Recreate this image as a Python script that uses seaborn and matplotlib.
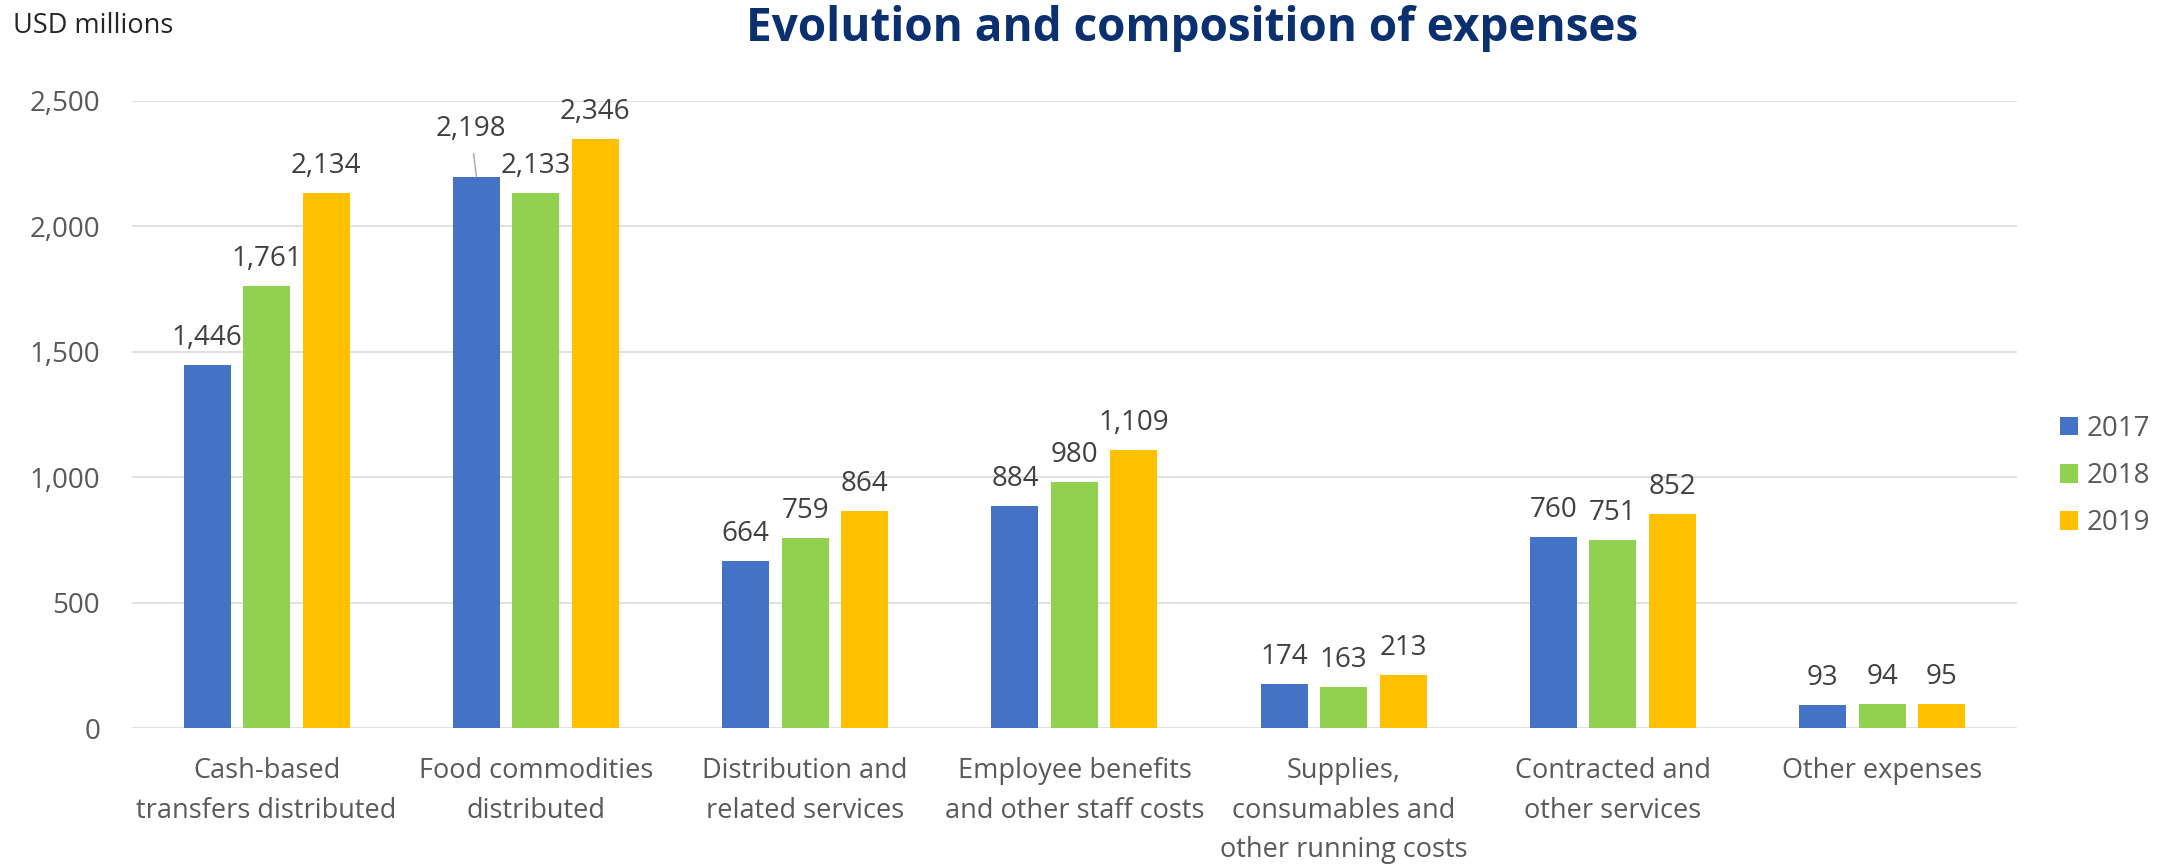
import matplotlib
matplotlib.use("Agg")
import matplotlib.pyplot as plt
from matplotlib.ticker import FuncFormatter, MultipleLocator
import seaborn as sns
import pandas as pd

# Expense categories (USD millions) for 2017-2019
categories = [
    "Cash-based\ntransfers distributed",
    "Food commodities\ndistributed",
    "Distribution and\nrelated services",
    "Employee benefits\nand other staff costs",
    "Supplies,\nconsumables and\nother running costs",
    "Contracted and\nother services",
    "Other expenses",
]
years = ["2017", "2018", "2019"]
values_2017 = [1446, 2198, 664, 884, 174, 760, 93]
values_2018 = [1761, 2133, 759, 980, 163, 751, 94]
values_2019 = [2134, 2346, 864, 1109, 213, 852, 95]
palette = ["#4472C4", "#92D050", "#FFC000"]

df = pd.DataFrame({
    "category": categories * 3,
    "year": [y for y in years for _ in categories],
    "value": values_2017 + values_2018 + values_2019,
})

sns.set_theme(style="white")
plt.rcParams["font.family"] = ["Open Sans", "DejaVu Sans"]

fig = plt.figure(figsize=(21.68, 8.64), dpi=100)
ax = fig.add_axes([0.0609, 0.1574, 0.8694, 0.7260])

sns.barplot(data=df, x="category", y="value", hue="year", order=categories,
            hue_order=years, palette=palette, saturation=1, width=0.663,
            gap=0.21, linewidth=0, errorbar=None, ax=ax)

ax.set_xlim(-0.5, len(categories) - 0.5)
ax.set_ylim(0, 2500)
ax.yaxis.set_major_locator(MultipleLocator(500))
ax.yaxis.set_major_formatter(FuncFormatter(lambda v, _: f"{v:,.0f}"))
ax.grid(axis="y", color="#D9D9D9", linewidth=1.1)
ax.set_axisbelow(True)
for side in ["top", "right", "left", "bottom"]:
    ax.spines[side].set_visible(False)
ax.set_xlabel("")
ax.set_ylabel("")
ax.tick_params(axis="y", length=0, pad=23, labelsize=20, labelcolor="#595959")
ax.tick_params(axis="x", length=0, pad=21, labelsize=19.5, labelcolor="#595959")
for lbl in ax.get_xticklabels():
    lbl.set_linespacing(1.55)

# Value labels above each bar; the 2017 food label sits higher with a leader line
series = [values_2017, values_2018, values_2019]
for container, vals in zip(ax.containers, series):
    for i, (bar, v) in enumerate(zip(container, vals)):
        cx = bar.get_x() + bar.get_width() / 2
        top = bar.get_height()
        if container is ax.containers[0] and i == 1:
            ax.annotate(f"{v:,}", xy=(cx, top), xytext=(-4.3, 29),
                        textcoords="offset points", ha="center", va="baseline",
                        fontsize=20, color="#404040",
                        arrowprops=dict(arrowstyle="-", color="#A6A6A6",
                                        lw=1.0, shrinkA=5, shrinkB=0))
        else:
            ax.annotate(f"{v:,}", xy=(cx, top), xytext=(0, 14.4),
                        textcoords="offset points", ha="center", va="baseline",
                        fontsize=20, color="#404040")

handles, labels = ax.get_legend_handles_labels()
ax.legend(handles, labels, loc="center left",
          bbox_to_anchor=(2060 / 2168, 1 - 476 / 864),
          bbox_transform=fig.transFigure, frameon=False, fontsize=20,
          labelcolor="#595959", handlelength=0.65, handleheight=0.65,
          handletextpad=0.3, labelspacing=0.7, borderpad=0, borderaxespad=0)

fig.text(1192 / 2168, 1 - 41 / 864, "Evolution and composition of expenses",
         ha="center", va="baseline", fontsize=33, fontweight="bold",
         color="#0B3070")
fig.text(13 / 2168, 1 - 33 / 864, "USD millions", ha="left", va="baseline",
         fontsize=19.5, color="#262626")

fig.savefig("out.png", dpi=100)
